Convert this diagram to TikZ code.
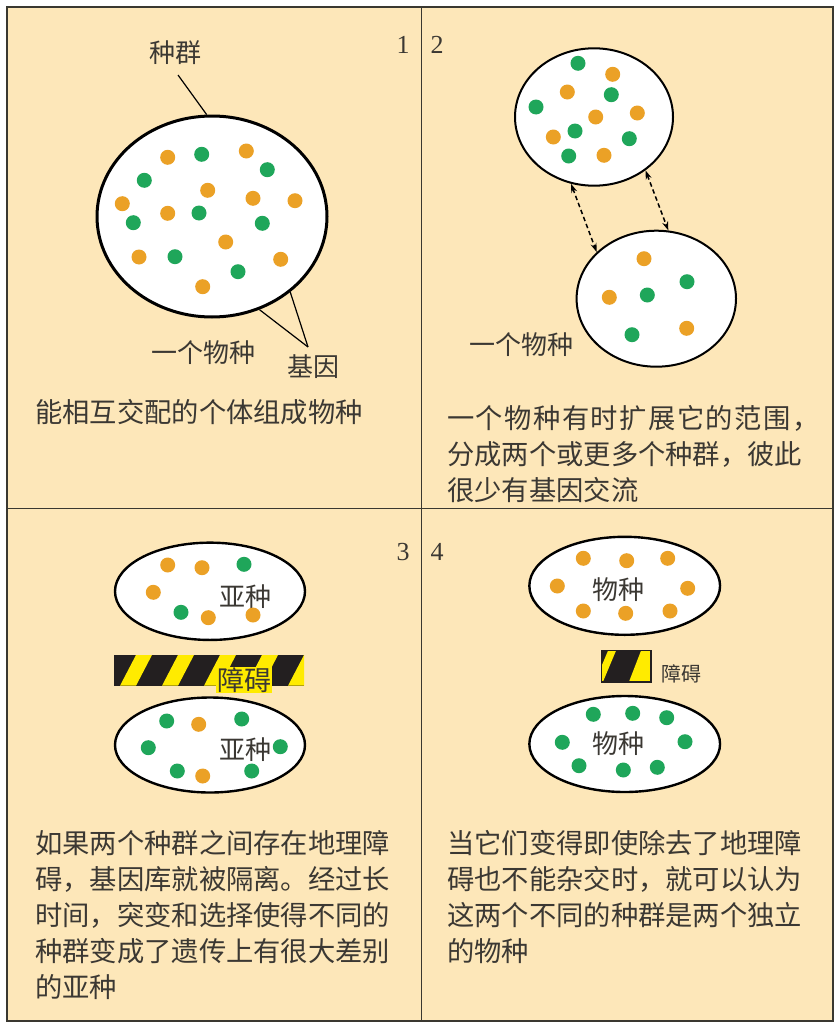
\documentclass[tikz,border=0pt]{standalone}
\usepackage{fontspec}
\setmainfont{Liberation Serif}
\newfontfamily\cjk{Noto Sans CJK SC}
\usetikzlibrary{arrows.meta,shapes.geometric}
\definecolor{bg}{HTML}{FDE7B9}
\definecolor{ink}{HTML}{3B3833}
\definecolor{frame}{HTML}{3A3830}
\definecolor{dotO}{HTML}{EBA126}
\definecolor{dotG}{HTML}{1FA65A}
\definecolor{hazY}{HTML}{FFEB00}
\definecolor{hazK}{HTML}{231F20}
\newcommand\myks{\kern1.45pt}
\begin{document}
\begin{tikzpicture}[x=1pt,y=-1pt,
  body/.style={anchor=base west, inner sep=0pt, text=ink, font=\cjk\fontsize{27.3pt}{30pt}\selectfont},
  lbl/.style={inner sep=0pt, text=ink, font=\cjk\fontsize{26pt}{30pt}\selectfont},
  num/.style={inner sep=0pt, text=ink, font=\fontsize{26pt}{30pt}\selectfont},
  pop/.style={draw=black, fill=white, ellipse, inner sep=0pt},
  leader/.style={draw=black, line width=1.2pt},
  flow/.style={draw=black, line width=1.5pt, dash pattern=on 4.5pt off 3pt,
     {Stealth[length=9pt,width=6pt]}-{Stealth[length=9pt,width=6pt]}},
]
\useasboundingbox (0,0) rectangle (836,1025);
\fill[white] (0,0) rectangle (836,1025);
\draw[frame, line width=2pt, fill=bg] (7,7) rectangle (833,1021);
\draw[frame, line width=1pt] (421,7) -- (421,1021);
\draw[frame, line width=1pt] (7,508) -- (833,508);

% numbers
\node[num] (n1) at (403,45) {1};
\node[num] (n2) at (437,45) {2};
\node[num] (n3) at (403,552) {3};
\node[num] (n4) at (437,552) {4};

% ---------- panel 1
\node[pop, line width=3pt, minimum width=230pt, minimum height=201pt] (e1) at (212,216.5) {};
\foreach \x/\y in {167.7/157.3, 246.3/151, 207.7/190.3, 122.3/203.7, 253/198.3, 295/200.7, 167.7/213.3, 225.7/242, 139/257, 280.7/259.3, 202.7/286.7}
  \fill[dotO] (\x,\y) circle (7.5pt);
\foreach \x/\y in {201.7/154.3, 267.3/169.7, 144.3/180.3, 133.3/222.7, 199/213, 262.3/223.3, 175/256.7, 238/271.7}
  \fill[dotG] (\x,\y) circle (7.5pt);
\node[lbl] (zq) at (175,53) {种群};
\coordinate (zqend) at (178,75);
\draw[leader] (zqend) -- (e1.93);
\node[lbl] (sp1) at (203,353) {一个物种};
\node[lbl] (jy) at (313,367) {基因};
\coordinate (jyend) at (308,347);
\draw[leader] (jyend) -- (e1.-44);
\draw[leader] (jyend) -- (e1.-63);
\node[body] (t1a) at (35,422) {能相互交配的个体组成物种};

% ---------- panel 2
\node[pop, line width=2pt, minimum width=158pt, minimum height=137.4pt] (e2a) at (594,117) {};
\node[pop, line width=2pt, minimum width=159.4pt, minimum height=136pt] (e2b) at (656.3,298.7) {};
\foreach \x/\y in {612.7/74.3, 567.3/92, 595.7/117, 637.3/113, 553.3/137, 604/155.3, 644/258.7, 609.3/297.3, 686.7/328.3}
  \fill[dotO] (\x,\y) circle (7.5pt);
\foreach \x/\y in {578/63.3, 611.3/94.7, 536/107, 575/131, 629.3/138.7, 568.7/156, 687/281.7, 647.3/295, 632/334.7}
  \fill[dotG] (\x,\y) circle (7.5pt);
\draw[flow] (e2a.-109) -- (e2b.142);
\draw[flow] (e2a.-46) -- (e2b.80);
\node[lbl] (sp2) at (521.7,345) {一个物种};
\node[body] (t2a) at (447,428.4) {一\myks 个\myks 物\myks 种\myks 有\myks 时\myks 扩\myks 展\myks 它\myks 的\myks 范\myks 围\myks ，};
\node[body] (t2b) at (447,464.4) {分成两个或更多个种群，彼此};
\node[body] (t2c) at (447,500.4) {很少有基因交流};

% ---------- panel 3
\node[pop, line width=2.4pt, minimum width=190pt, minimum height=97.3pt] (e3a) at (210,591.3) {};
\node[pop, line width=2.4pt, minimum width=190pt, minimum height=95pt] (e3b) at (210,745) {};
\node[lbl] (ss1) at (245,596.7) {亚种};
\node[lbl] (ss2) at (245,750) {亚种};
\foreach \x/\y in {167.7/565, 202/567.7, 153.3/592.3, 208.3/617.7, 253/615, 198.7/724.3, 202.7/776}
  \fill[dotO] (\x,\y) circle (7.5pt);
\foreach \x/\y in {244/564.3, 181/612.3, 166.7/721, 241.7/719, 148.3/747.7, 280.3/746.7, 177.3/771, 251.7/771}
  \fill[dotG] (\x,\y) circle (7.5pt);
\node[fill=hazK, inner sep=0pt, minimum width=190pt, minimum height=30.7pt] (bar3) at (209,670.3) {};
\begin{scope}
  \clip (bar3.south west) rectangle (bar3.north east);
  \foreach \k in {0,...,4}
    \fill[hazY] (120+42*\k,685.7) -- (136+42*\k,685.7) -- (152+42*\k,655) -- (136+42*\k,655) -- cycle;
\end{scope}
\node[lbl, fill=hazY, inner sep=1pt, font=\cjk\fontsize{27pt}{30pt}\selectfont] (bl3) at (244,680) {障碍};
\node[body] (t3a) at (35,853.4) {如果两个种群之间存在地理障};
\node[body] (t3b) at (35,889.4) {碍，基因库就被隔离。经过长};
\node[body] (t3c) at (35,925.4) {时间，突变和选择使得不同的};
\node[body] (t3d) at (35,961.4) {种群变成了遗传上有很大差别};
\node[body] (t3e) at (35,997.4) {的亚种};

% ---------- panel 4
\node[pop, line width=2.4pt, minimum width=190.7pt, minimum height=98pt] (e4a) at (624.7,585.8) {};
\node[pop, line width=2.4pt, minimum width=190.7pt, minimum height=96pt] (e4b) at (624.7,744) {};
\node[lbl] (sp4a) at (618.3,590) {物种};
\node[lbl] (sp4b) at (618.3,743.3) {物种};
\foreach \x/\y in {583.3/558.3, 626.7/560.7, 667.7/558.3, 557.3/586, 687.7/588.3, 583.3/611, 625.7/613.3, 670/611}
  \fill[dotO] (\x,\y) circle (7.5pt);
\foreach \x/\y in {593.3/714.3, 632.7/713.3, 666.7/717.7, 562.3/742.3, 685/741.7, 579/765.7, 623.3/770, 657.3/767.3}
  \fill[dotG] (\x,\y) circle (7.5pt);
\node[fill=hazK, inner sep=0pt, minimum width=49pt, minimum height=31pt] (bar4) at (626.2,666.2) {};
\begin{scope}
  \clip (bar4.south west) rectangle (bar4.north east);
  \fill[hazY] (595,681.7) -- (603,681.7) -- (616,650.7) -- (608,650.7) -- cycle;
  \fill[hazY] (629,681.7) -- (670,681.7) -- (670,650.7) -- (641,650.7) -- cycle;
\end{scope}
\draw[hazK, line width=1.2pt] (bar4.south west) rectangle (bar4.north east);
\node[lbl, font=\cjk\fontsize{20pt}{24pt}\selectfont] (bl4) at (681,673.5) {障碍};
\node[body] (t4a) at (447,853.4) {当它们变得即使除去了地理障};
\node[body] (t4b) at (447,889.4) {碍也不能杂交时，就可以认为};
\node[body] (t4c) at (447,925.4) {这两个不同的种群是两个独立};
\node[body] (t4d) at (447,961.4) {的物种};
\end{tikzpicture}
\end{document}
